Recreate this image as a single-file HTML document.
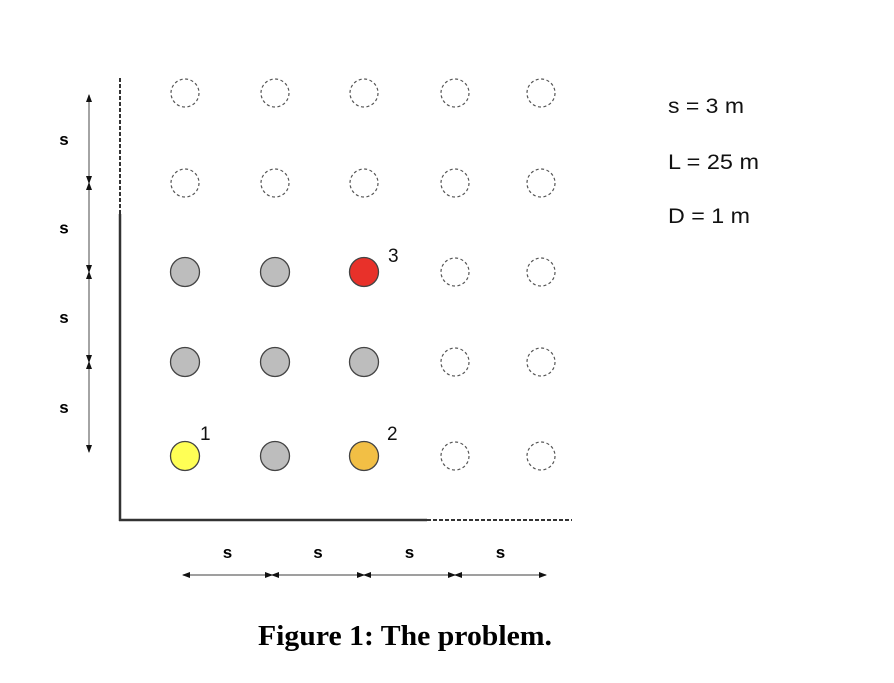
<!DOCTYPE html>
<html><head><meta charset="utf-8"><style>
html,body{margin:0;padding:0;background:#fff;}
svg{display:block;}
text{font-family:"Liberation Sans",sans-serif;}
</style></head><body>
<svg id="fig" width="894" height="683" viewBox="0 0 894 683" xmlns="http://www.w3.org/2000/svg">
<defs>
<marker id="ah" markerWidth="8" markerHeight="8" refX="7" refY="4" orient="auto-start-reverse" markerUnits="userSpaceOnUse"><path d="M0,1 L8,4 L0,7 Z" fill="#111"/></marker>
</defs>
<g>
<line x1="120" y1="78" x2="120" y2="214" stroke="#333" stroke-width="2" stroke-dasharray="4,2"/>
<line x1="120" y1="214" x2="120" y2="521" stroke="#333" stroke-width="2.5"/>
<line x1="119" y1="520" x2="427" y2="520" stroke="#333" stroke-width="2.5"/>
<line x1="427" y1="520" x2="572" y2="520" stroke="#333" stroke-width="2" stroke-dasharray="4,2"/>
</g>
<g id="dims"></g>
<g id="piles"></g>
<g font-size="19" fill="#111">
<text x="200" y="440">1</text>
<text x="387" y="440">2</text>
<text x="388" y="262">3</text>
</g>
<g font-size="21" fill="#111">
<text x="668" y="113" textLength="76" lengthAdjust="spacingAndGlyphs">s = 3 m</text>
<text x="668" y="169" textLength="91" lengthAdjust="spacingAndGlyphs">L = 25 m</text>
<text x="668" y="223" textLength="82" lengthAdjust="spacingAndGlyphs">D = 1 m</text>
</g>
<text x="405" y="645" text-anchor="middle" font-weight="bold" font-size="28" style="font-family:'Liberation Serif',serif" textLength="294" lengthAdjust="spacingAndGlyphs">Figure 1: The problem.</text>
</svg>
<script>
const colX = [185, 275, 364, 455, 541];
const rowY = [93, 183, 272, 362, 456];
// state per row (top to bottom), per column: 0 empty-dashed, 1 gray, 2 red, 3 yellow, 4 orange
const row0 = [0,0,0,0,0];
const row1 = [0,0,0,0,0];
const row2 = [1,1,2,0,0];
const row3 = [1,1,1,0,0];
const row4 = [3,1,4,0,0];
const grid = [row0,row1,row2,row3,row4];
const fills = ['none','#bdbdbd','#e8312a','#ffff55','#f2bf45'];
const NS='http://www.w3.org/2000/svg';
const piles=document.getElementById('piles');
grid.forEach((row,r)=>row.forEach((v,c)=>{
  const e=document.createElementNS(NS,'circle');
  
  
  e.setAttribute('cx',colX[c]);e.setAttribute('cy',rowY[r]);e.setAttribute('r',v?14.5:14);
  e.setAttribute('fill',v?fills[v]:'none');
  e.setAttribute('stroke',v?'#444':'#555');
  e.setAttribute('stroke-width',v?1.3:1.2);
  if(!v) e.setAttribute('stroke-dasharray','3,2.5');
  piles.appendChild(e);
}));
const dims=document.getElementById('dims');
function seg(x1,y1,x2,y2){
  const l=document.createElementNS(NS,'line');
  
  
  l.setAttribute('x1',x1);l.setAttribute('y1',y1);l.setAttribute('x2',x2);l.setAttribute('y2',y2);
  l.setAttribute('stroke','#666');l.setAttribute('stroke-width','1.2');
  l.setAttribute('marker-end','url(#ah)');l.setAttribute('marker-start','url(#ah)');
  dims.appendChild(l);
}
function lab(x,y){
  const t=document.createElementNS(NS,'text');
  
  
  t.setAttribute('x',x);t.setAttribute('y',y);t.setAttribute('font-size','17');t.setAttribute('font-weight','bold');t.setAttribute('text-anchor','middle');
  t.textContent='s';dims.appendChild(t);
}
const vStops=[95,183,272,362,452];
for(let i=0;i<4;i++){seg(89,vStops[i+1],89,vStops[i]);lab(64,(vStops[i]+vStops[i+1])/2+6);}
const hStops=[183,272,364,455,546];
for(let i=0;i<4;i++){seg(hStops[i+1],575,hStops[i],575);lab((hStops[i]+hStops[i+1])/2,558);}
</script>
</body></html>
